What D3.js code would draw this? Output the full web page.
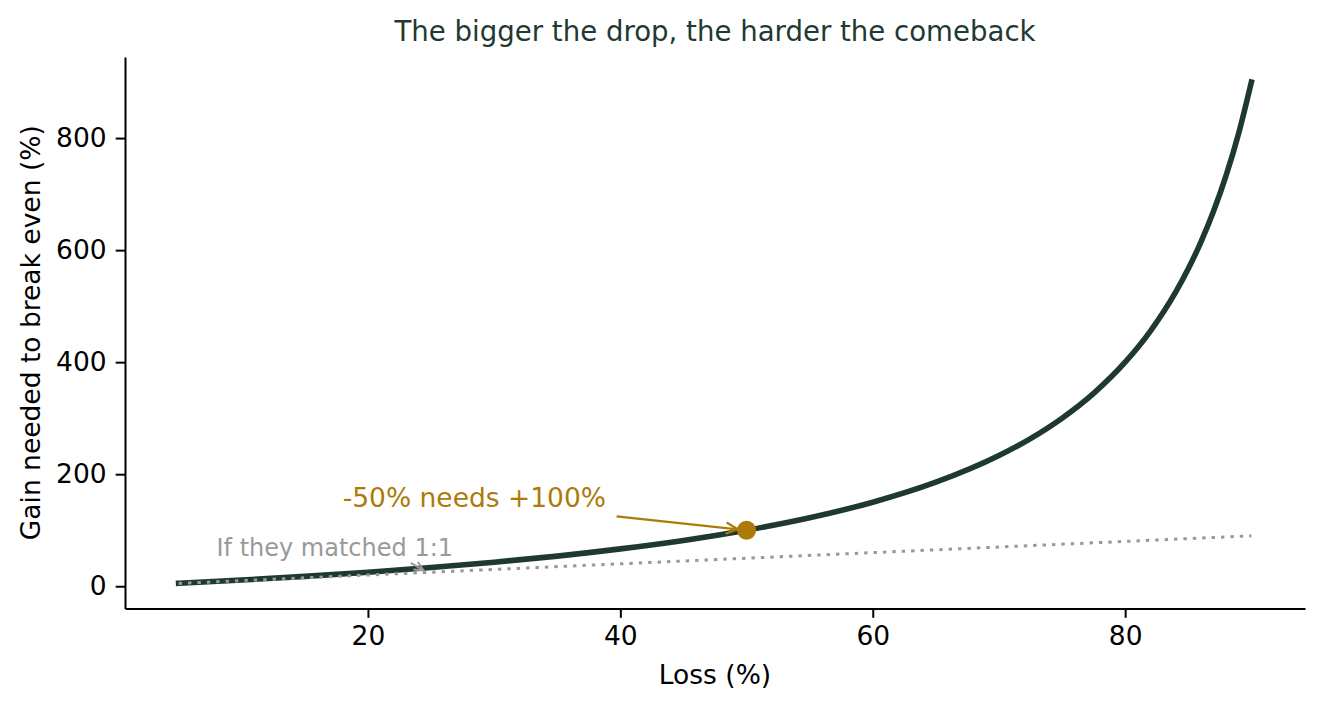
<!DOCTYPE html>
<html>
<head>
<meta charset="utf-8">
<script src="https://cdn.jsdelivr.net/npm/d3@7/dist/d3.min.js"></script>
<style>
  html, body { margin: 0; padding: 0; background: #fff; }
  svg { display: block; }
  text { font-family: "DejaVu Sans", sans-serif; }
</style>
</head>
<body>
<svg id="chart" width="1324" height="710"></svg>
<script>
// ---- data ----
const lossPct = [5, 10, 15, 20, 25, 30, 35, 40, 45, 50, 55, 60, 65, 70, 72.5, 75, 77.5, 80, 82, 84, 85, 86, 87, 88, 89, 90];
const gainPct = [5.3, 11.1, 17.6, 25, 33.3, 42.9, 53.8, 66.7, 81.8, 100, 122.2, 150, 185.7, 233.3, 263.6, 300, 344.4, 400, 455.6, 525, 566.7, 614.3, 669.2, 733.3, 809.1, 900];
const matchLoss = [5, 90];
const matchGain = [5, 90];
const xTicks = [20, 40, 60, 80];
const yTicks = [0, 200, 400, 600, 800];
const highlight = { loss: 50, gain: 100 };
const titleText = "The bigger the drop, the harder the comeback";
const xLabel = "Loss (%)";
const yLabel = "Gain needed to break even (%)";
const noteMain = "-50% needs +100%";
const noteMatch = "If they matched 1:1";

// ---- layout ----
const svg = d3.select("#chart");
const pLeft = 125, pRight = 1305, pTop = 57, pBottom = 608.5;
const green = "#1e3a2f", gold = "#ad7a0a", gray = "#999999";

const x = d3.scaleLinear().domain([0.75, 94.25]).range([pLeft, pRight]);
const y = d3.scaleLinear().domain([-39.75, 944.75]).range([pBottom, pTop]);

// axes
const xAxis = svg.append("g")
  .attr("transform", `translate(0,${pBottom})`)
  .call(d3.axisBottom(x).tickValues(xTicks).tickSize(9.3).tickSizeOuter(0).tickPadding(8));
const yAxis = svg.append("g")
  .attr("transform", `translate(${pLeft},0)`)
  .call(d3.axisLeft(y).tickValues(yTicks).tickSize(9.3).tickSizeOuter(0).tickPadding(9));
[xAxis, yAxis].forEach(g => {
  g.selectAll("path.domain").attr("stroke", "#000").attr("stroke-width", 2);
  g.selectAll(".tick line").attr("stroke", "#000").attr("stroke-width", 2);
  g.selectAll(".tick text").attr("fill", "#000").style("font-size", "26.5px").style("font-family", "DejaVu Sans");
});

const matchData = matchLoss.map((l, i) => [l, matchGain[i]]);
const curveData = lossPct.map((l, i) => [l, gainPct[i]]);
const straight = d3.line().x(d => x(d[0])).y(d => y(d[1]));

// main curve
svg.append("path")
  .datum(curveData)
  .attr("fill", "none")
  .attr("stroke", green)
  .attr("stroke-width", 5.6)
  .attr("stroke-linecap", "square")
  .attr("d", d3.line().curve(d3.curveMonotoneX).x(d => x(d[0])).y(d => y(d[1])));

// 1:1 dotted line (drawn on top)
svg.append("path")
  .datum(matchData)
  .attr("fill", "none")
  .attr("stroke", gray)
  .attr("stroke-width", 3)
  .attr("stroke-dasharray", "3.4,6")
  .attr("d", straight);

// highlight point
svg.append("circle")
  .attr("cx", x(highlight.loss)).attr("cy", y(highlight.gain))
  .attr("r", 9.5).attr("fill", gold);

// arrow helper
function arrow(x1, y1, x2, y2, color, w, head) {
  svg.append("line").attr("x1", x1).attr("y1", y1).attr("x2", x2).attr("y2", y2)
    .attr("stroke", color).attr("stroke-width", w);
  const a = Math.atan2(y2 - y1, x2 - x1);
  const spread = 0.45;
  const p1 = [x2 - head * Math.cos(a - spread), y2 - head * Math.sin(a - spread)];
  const p2 = [x2 - head * Math.cos(a + spread), y2 - head * Math.sin(a + spread)];
  svg.append("path").attr("d", `M${p1[0]},${p1[1]}L${x2},${y2}L${p2[0]},${p2[1]}`)
    .attr("fill", "none").attr("stroke", color).attr("stroke-width", w);
}

// gold annotation
svg.append("text")
  .attr("x", x(18)).attr("y", y(141))
  .attr("fill", gold).style("font-size", "26.5px")
  .text(noteMain);
arrow(x(39.7), y(124.7), x(49.3), y(101.6), gold, 2.2, 13);

// gray annotation
svg.append("text")
  .attr("x", x(8)).attr("y", y(53.5))
  .attr("fill", gray).style("font-size", "24px")
  .text(noteMatch);
arrow(x(23.4), y(41.5), x(24.4), y(28.5), gray, 2, 10);

// title & labels
svg.append("text")
  .attr("x", (pLeft + pRight) / 2).attr("y", 41)
  .attr("text-anchor", "middle").attr("fill", "#1f3a32")
  .style("font-size", "27.6px").text(titleText);
svg.append("text")
  .attr("x", (pLeft + pRight) / 2).attr("y", 684)
  .attr("text-anchor", "middle").attr("fill", "#000")
  .style("font-size", "26.5px").text(xLabel);
svg.append("text")
  .attr("transform", `translate(40,${(pTop + pBottom) / 2}) rotate(-90)`)
  .attr("text-anchor", "middle").attr("fill", "#000")
  .style("font-size", "26.5px").text(yLabel);
</script>
</body>
</html>
